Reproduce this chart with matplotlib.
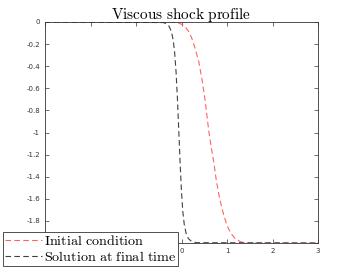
import numpy as np
import matplotlib
matplotlib.use("Agg")
import matplotlib.pyplot as plt

plt.rcParams["mathtext.fontset"] = "cm"

# values
x_init = [-3.0, -0.1, 0.05, 0.15, 0.22, 0.30, 0.38, 0.45, 0.52, 0.60, 0.66, 0.71, 0.76,
          0.82, 0.88, 0.93, 1.00, 1.08, 1.18, 1.30, 1.45, 3.0]
u_init = [0.0, -0.003, -0.03, -0.08, -0.14, -0.24, -0.36, -0.52, -0.71, -0.99, -1.15, -1.27, -1.42,
          -1.56, -1.67, -1.75, -1.84, -1.91, -1.96, -1.99, -2.0, -2.0]

x_final = [-3.0, -0.40, -0.33, -0.27, -0.22, -0.18, -0.15, -0.12, -0.09, -0.06, -0.03,
           0.00, 0.03, 0.06, 0.10, 0.15, 0.22, 0.32, 3.0]
u_final = [0.0, -0.005, -0.015, -0.04, -0.09, -0.17, -0.28, -0.45, -0.69, -0.98, -1.28,
           -1.54, -1.72, -1.83, -1.91, -1.96, -1.985, -1.997, -2.0]

x_ticks = [-3, -2, -1, 0, 1, 2, 3]
y_ticks = [0, -0.2, -0.4, -0.6, -0.8, -1, -1.2, -1.4, -1.6, -1.8, -2]

fig = plt.figure(figsize=(3.52, 2.73), dpi=100)
ax = fig.add_axes([45 / 352, 1 - 243 / 273, 273 / 352, 221 / 273])

ax.plot(x_init, u_init, "--", color="#ff6262", lw=0.8, dashes=(5, 3), label=r"$\mathrm{Initial\ condition}$")
ax.plot(x_final, u_final, "--", color="#404040", lw=0.8, dashes=(5, 3), label=r"$\mathrm{Solution\ at\ final\ time}$")

ax.set_xlim(-3, 3)
ax.set_ylim(-2, 0)
ax.set_xticks(x_ticks)
ax.set_yticks(y_ticks)
# labels under the legend are hidden in the reference
ax.set_xticklabels([("%g" % v) if v >= 0 else "" for v in x_ticks])
ax.set_yticklabels([("%g" % v) if v > -2 else "" for v in y_ticks])
ax.tick_params(direction="in", top=True, right=True, labelsize=5, colors="#333333",
               length=3, width=0.5, labelcolor="#333333")
for s in ax.spines.values():
    s.set_color("#333333")
    s.set_linewidth(0.6)

ax.set_title(r"$\mathrm{Viscous\ shock\ profile}$", fontsize=11, pad=2)

leg = fig.legend(loc="lower left", bbox_to_anchor=(3 / 352, 1 - 266 / 273), fontsize=10.2,
                 frameon=True, fancybox=False, framealpha=1, edgecolor="#333333",
                 borderpad=0.15, labelspacing=0.15, handlelength=2.6, handletextpad=0.15,
                 borderaxespad=0)
leg.get_frame().set_linewidth(0.6)

fig.savefig("out.png", dpi=100)
